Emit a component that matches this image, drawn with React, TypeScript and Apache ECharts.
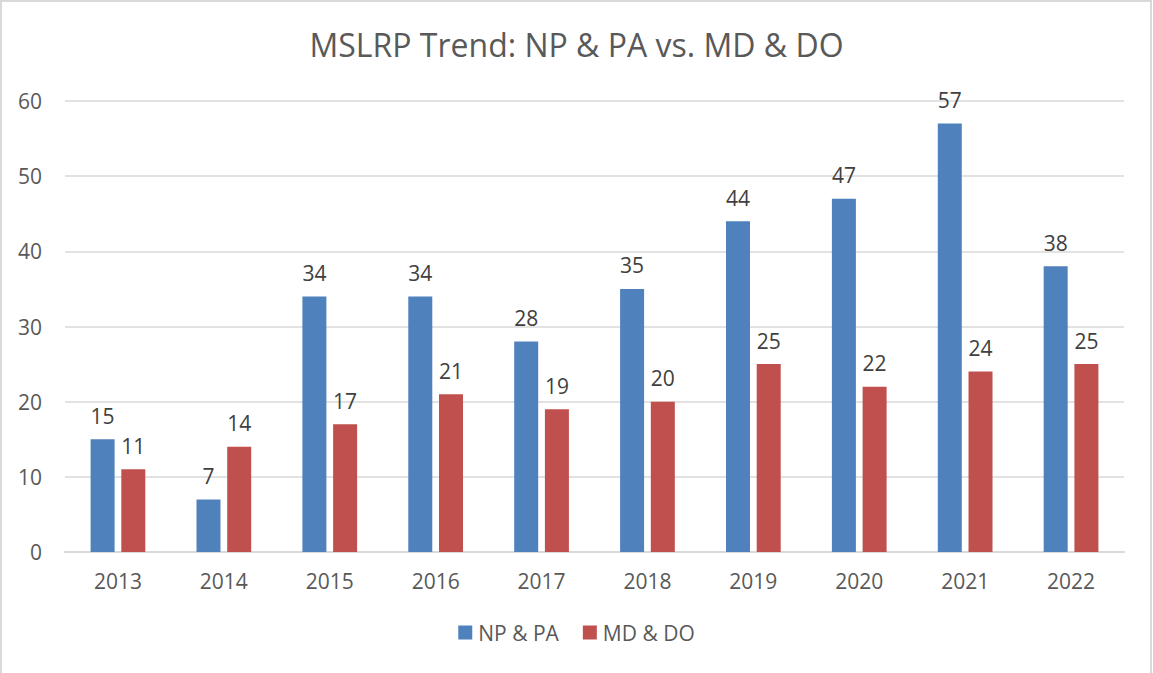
import React, { useEffect, useRef } from "react";
import * as echarts from "echarts";

const years = ["2013", "2014", "2015", "2016", "2017", "2018", "2019", "2020", "2021", "2022"];
const npPa = [15, 7, 34, 34, 28, 35, 44, 47, 57, 38];
const mdDo = [11, 14, 17, 21, 19, 20, 25, 22, 24, 25];

export default function App() {
  const ref = useRef<HTMLDivElement>(null);
  useEffect(() => {
    const chart = echarts.init(ref.current!, null, { renderer: "svg" });
    const font = "'Open Sans', 'Liberation Sans', sans-serif";
    chart.setOption({
      animation: false,
      backgroundColor: "#ffffff",
      textStyle: { fontFamily: font },
      title: {
        text: "MSLRP Trend: NP & PA vs. MD & DO",
        left: "center",
        top: 23,
        textStyle: { color: "#595959", fontSize: 32, fontWeight: "normal", fontFamily: font },
      },
      graphic: [
        {
          type: "rect",
          shape: { x: 1, y: 1, width: 1150, height: 700 },
          style: { fill: "none", stroke: "#d9d9d9", lineWidth: 2 },
          silent: true,
        },
      ],
      legend: {
        bottom: 25,
        left: "center",
        itemWidth: 14,
        itemHeight: 14,
        itemGap: 24,
        icon: "rect",
        textStyle: { color: "#595959", fontSize: 21, fontFamily: font, padding: [0, 0, 0, 1] },
        data: ["NP & PA", "MD & DO"],
      },
      grid: { left: 65, right: 29, top: 101, bottom: 121 },
      xAxis: {
        type: "category",
        data: years,
        axisLine: { lineStyle: { color: "#d9d9d9", width: 2 } },
        axisTick: { show: false },
        axisLabel: { color: "#595959", fontSize: 21, margin: 18, fontFamily: font },
      },
      yAxis: {
        type: "value",
        min: 0,
        max: 60,
        interval: 10,
        axisLine: { show: false },
        axisTick: { show: false },
        splitLine: { lineStyle: { color: "#d9d9d9", width: 1.5 } },
        axisLabel: { color: "#595959", fontSize: 21, margin: 23, fontFamily: font },
      },
      series: [
        {
          name: "NP & PA",
          type: "bar",
          data: npPa,
          barWidth: 24,
          barGap: "28%",
          itemStyle: { color: "#4F81BD" },
          label: { show: true, position: "top", distance: 13, color: "#404040", fontSize: 21, fontFamily: font },
        },
        {
          name: "MD & DO",
          type: "bar",
          data: mdDo,
          barWidth: 24,
          itemStyle: { color: "#C0504D" },
          label: { show: true, position: "top", distance: 13, color: "#404040", fontSize: 21, fontFamily: font },
        },
      ],
    });
    return () => chart.dispose();
  }, []);
  return (
    <div
      ref={ref}
      style={{ position: "fixed", left: 0, top: 0, width: 1153, height: 673 }}
    />
  );
}
